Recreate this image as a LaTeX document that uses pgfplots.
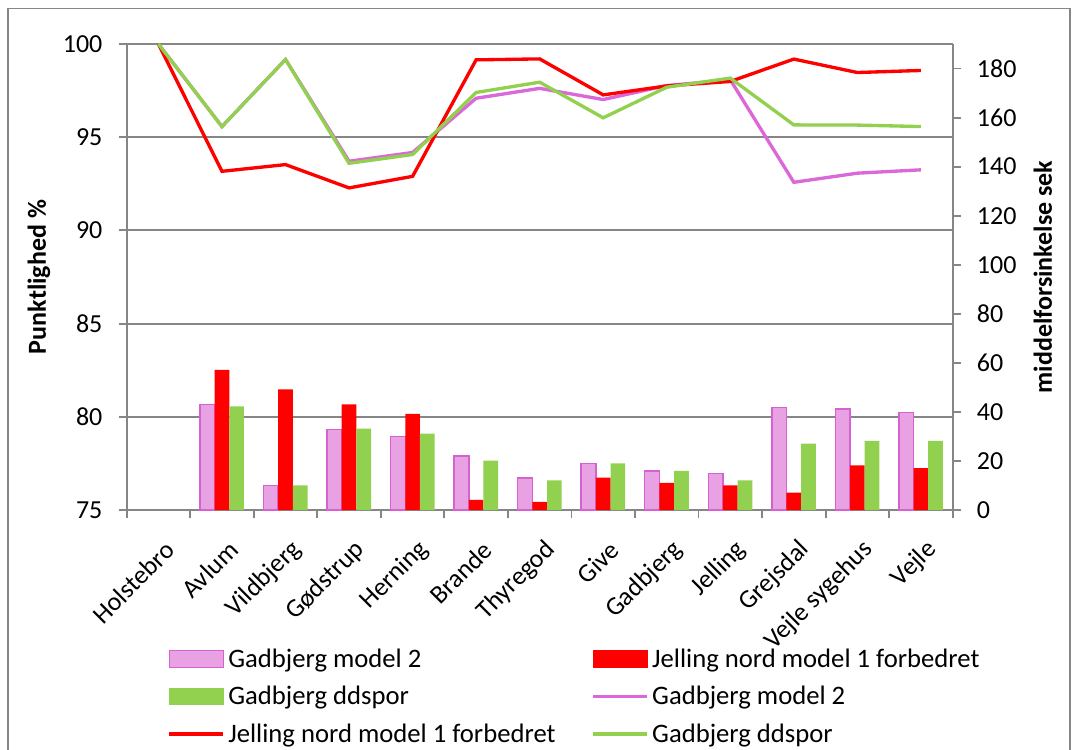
\documentclass[border=0pt]{standalone}
\usepackage{pgfplots}
\pgfplotsset{compat=1.18}
\usepackage{fontspec}
\setmainfont{Carlito}

\definecolor{axisgray}{RGB}{134,134,134}
\definecolor{pinkfill}{RGB}{232,162,228}
\definecolor{pinkedge}{RGB}{214,98,210}
\definecolor{pinkline}{RGB}{218,104,216}
\definecolor{barred}{RGB}{255,0,0}
\definecolor{ddgreen}{RGB}{146,208,80}

\newcommand{\cf}{\fontsize{19.5}{23}\selectfont}
\newcommand{\lf}{\fontsize{20}{24}\selectfont}

\pgfplotsset{
  barlegend/.style={legend image code/.code={\draw[##1] (0pt,-6.25pt) rectangle (40.5pt,6.25pt);}},
  linelegend/.style={legend image code/.code={\draw[##1] (0pt,0pt) -- (40.5pt,0pt);}},
}

\begin{document}
\begin{tikzpicture}
\useasboundingbox (-95pt,-179.25pt) rectangle (709.75pt,382.5pt);
\draw[axisgray, line width=1.4pt] (-89pt,-200pt) rectangle (707.5pt,376.1pt);

% punctuality (%) on the left axis, drawn as lines
\begin{axis}[
  at={(0pt,0pt)}, anchor=south west, scale only axis,
  width=619.5pt, height=349.5pt,
  xmin=-0.5, xmax=12.5, ymin=75, ymax=100, clip=false,
  axis x line*=bottom, axis y line*=left,
  axis line style={-, axisgray, line width=1.4pt},
  x tick label as interval,
  xtick={-0.5,0.5,...,12.5},
  xticklabels={Holstebro,Avlum,Vildbjerg,Gødstrup,Herning,Brande,Thyregod,Give,Gadbjerg,Jelling,Grejsdal,Vejle sygehus,Vejle},
  ytick={75,80,...,100},
  ymajorgrids, grid style={axisgray, line width=1.4pt},
  tick align=outside, major tick length=6pt,
  tick style={axisgray, line width=1.4pt},
  /pgf/number format/assume math mode=true,
  yticklabel style={font=\cf, anchor=east, inner sep=0pt, xshift=-12pt},
  xticklabel style={font=\cf, inner sep=0pt, xshift=8.8pt, yshift=-20.8pt, rotate=45, anchor=east},
  ylabel={Punktlighed \%},
  ylabel style={font=\cf\bfseries, at={(axis description cs:-0.1062,0.5)}, anchor=center},
  legend columns=2,
  legend cell align=left,
  legend style={at={(axis description cs:0.0496,-0.2961)}, anchor=north west,
    draw=none, fill=none, font=\lf, inner sep=0pt, outer sep=0pt,
    nodes={inner sep=0.5pt}, column sep=2pt, row sep=11.75pt,
    /tikz/every even column/.append style={column sep=26.4pt}},
]
\addlegendimage{barlegend, fill=pinkfill, draw=pinkedge, line width=1.1pt}
\addlegendentry{Gadbjerg model 2}
\addlegendimage{barlegend, fill=barred, draw=barred}
\addlegendentry{Jelling nord model 1 forbedret}
\addlegendimage{barlegend, fill=ddgreen, draw=ddgreen}
\addlegendentry{Gadbjerg ddspor}

\addplot[linelegend, pinkline, line width=2.5pt] coordinates {
  (0,100) (1,95.57) (2,99.17) (3,93.71) (4,94.18) (5,97.09) (6,97.62)
  (7,97.02) (8,97.77) (9,98.08) (10,92.58) (11,93.07) (12,93.25)};
\addlegendentry{Gadbjerg model 2}
\addplot[linelegend, barred, line width=2.5pt] coordinates {
  (0,100) (1,93.17) (2,93.53) (3,92.28) (4,92.90) (5,99.15) (6,99.20)
  (7,97.27) (8,97.75) (9,97.99) (10,99.19) (11,98.47) (12,98.58)};
\addlegendentry{Jelling nord model 1 forbedret}
\addplot[linelegend, ddgreen, line width=2.5pt] coordinates {
  (0,100) (1,95.57) (2,99.17) (3,93.60) (4,94.07) (5,97.40) (6,97.95)
  (7,96.04) (8,97.68) (9,98.17) (10,95.66) (11,95.65) (12,95.57)};
\addlegendentry{Gadbjerg ddspor}
\end{axis}

% mean delay (seconds) on the right axis, drawn as bars
\begin{axis}[
  at={(0pt,0pt)}, anchor=south west, scale only axis,
  width=619.5pt, height=349.5pt,
  xmin=-0.5, xmax=12.5, ymin=0, ymax=190,
  axis x line=none, axis y line*=right,
  axis line style={-, axisgray, line width=1.4pt},
  ytick={0,20,...,180},
  tick align=outside, major tick length=6pt,
  tick style={axisgray, line width=1.4pt},
  /pgf/number format/assume math mode=true,
  yticklabel style={font=\cf, anchor=west, inner sep=0pt, xshift=12pt},
  ylabel={middelforsinkelse sek},
  ylabel style={font=\cf\bfseries, at={(axis description cs:1.1093,0.5)}, anchor=center},
  ybar=0pt, bar width=11pt,
]
\addplot[fill=pinkfill, draw=pinkedge, line width=1.1pt] coordinates {
  (1,43.0) (2,10.0) (3,32.9) (4,30.0) (5,22.0) (6,13.1)
  (7,19.0) (8,15.9) (9,14.9) (10,41.9) (11,41.1) (12,39.8)};
\addplot[fill=barred, draw=none] coordinates {
  (1,57.1) (2,49.2) (3,43.1) (4,39.2) (5,4.1) (6,3.3)
  (7,13.2) (8,11.1) (9,10.0) (10,7.1) (11,18.2) (12,17.1)};
\addplot[fill=ddgreen, draw=none] coordinates {
  (1,42.2) (2,10.0) (3,33.2) (4,31.1) (5,20.1) (6,12.1)
  (7,19.0) (8,16.0) (9,12.1) (10,27.1) (11,28.2) (12,28.2)};
\end{axis}
\end{tikzpicture}
\end{document}
